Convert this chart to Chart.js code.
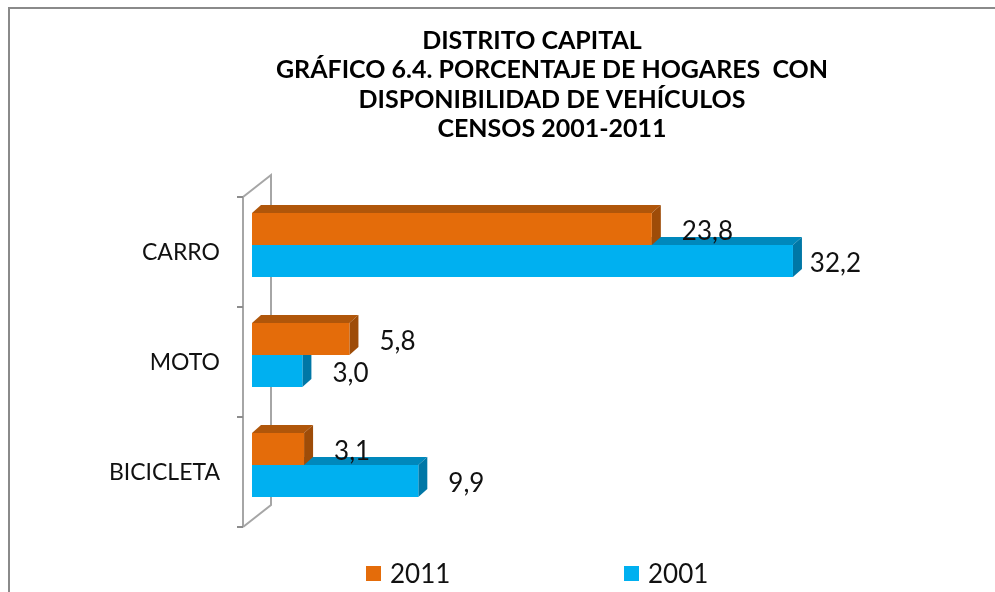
<!DOCTYPE html>
<html>
<head>
<meta charset="utf-8">
<script src="https://cdn.jsdelivr.net/npm/chart.js@4/dist/chart.umd.min.js"></script>
<style>
html,body{margin:0;padding:0;background:#fff;}
#wrap{position:relative;width:995px;height:592px;}
</style>
</head>
<body>
<div id="wrap"><canvas id="c" width="995" height="592"></canvas></div>
<script>
const categories = ["CARRO", "MOTO", "BICICLETA"];
const seriesNames = ["2011", "2001"];
const values2011 = [23.8, 5.8, 3.1];
const values2001 = [32.2, 3.0, 9.9];
const titleLines = ["DISTRITO CAPITAL", "GRÁFICO 6.4. PORCENTAJE DE HOGARES  CON", "DISPONIBILIDAD DE VEHÍCULOS", "CENSOS 2001-2011"];

const FONT = "Lato, 'Open Sans', sans-serif";
const DX = 9, DY = 8; // bar depth
const colors = {
  front: ["#E46C0A", "#00B0F0"],
  top: ["#B0560A", "#0088BC"],
  side: ["#9E4C08", "#0077A6"]
};

const borderPlugin = {
  id: 'border',
  beforeDraw(chart) {
    const ctx = chart.ctx;
    ctx.save();
    ctx.fillStyle = '#fff';
    ctx.fillRect(0, 0, chart.width, chart.height);
    ctx.strokeStyle = '#8a8a8a';
    ctx.lineWidth = 2;
    ctx.beginPath();
    ctx.moveTo(9, chart.height + 2);
    ctx.lineTo(9, 8);
    ctx.lineTo(chart.width + 2, 8);
    ctx.stroke();
    ctx.restore();
  }
};

const titlePlugin = {
  id: 'title3d',
  afterDraw(chart) {
    const ctx = chart.ctx;
    ctx.save();
    ctx.font = "bold 25px " + FONT;
    ctx.fillStyle = '#000';
    ctx.textAlign = 'center';
    ctx.textBaseline = 'middle';
    titleLines.forEach((t, i) => ctx.fillText(t, i === 0 ? 532 : 552, 41 + i * 29.3));
    ctx.restore();
  }
};

const wallPlugin = {
  id: 'wall',
  beforeDatasetsDraw(chart) {
    const ctx = chart.ctx;
    const a = chart.chartArea;
    const fx = a.left - 9, bx = a.left + 19;
    const ft = a.top + 7, fb = a.bottom + 7, bt = a.top - 15, bb = a.bottom - 15;
    ctx.save();
    ctx.strokeStyle = '#a6a6a6';
    ctx.lineWidth = 2;
    ctx.beginPath();
    ctx.moveTo(fx, ft); ctx.lineTo(fx, fb);
    ctx.moveTo(fx, ft); ctx.lineTo(bx, bt); ctx.lineTo(bx, bb); ctx.lineTo(fx, fb);
    ctx.stroke();
    const n = categories.length;
    const band = (a.bottom - a.top) / n;
    ctx.strokeStyle = '#8c8c8c';
    ctx.beginPath();
    for (let i = 0; i <= n; i++) {
      const y = a.top + i * band + 7;
      ctx.moveTo(fx - 6, y); ctx.lineTo(fx, y);
    }
    ctx.stroke();
    // 3D faces: later datasets first
    for (let d = chart.data.datasets.length - 1; d >= 0; d--) {
      const meta = chart.getDatasetMeta(d);
      meta.data.forEach(bar => {
        const p = bar.getProps(['x', 'y', 'base', 'height'], true);
        const top = p.y - p.height / 2, bot = p.y + p.height / 2;
        ctx.fillStyle = colors.top[d];
        ctx.beginPath();
        ctx.moveTo(p.base, top); ctx.lineTo(p.x, top);
        ctx.lineTo(p.x + DX, top - DY); ctx.lineTo(p.base + DX, top - DY);
        ctx.closePath(); ctx.fill();
        ctx.fillStyle = colors.side[d];
        ctx.beginPath();
        ctx.moveTo(p.x, top); ctx.lineTo(p.x + DX, top - DY);
        ctx.lineTo(p.x + DX, bot - DY); ctx.lineTo(p.x, bot);
        ctx.closePath(); ctx.fill();
      });
    }
    ctx.restore();
  }
};

const labelPlugin = {
  id: 'vlabels',
  afterDatasetsDraw(chart) {
    const ctx = chart.ctx;
    const a = chart.chartArea;
    ctx.save();
    ctx.font = "26px " + FONT;
    ctx.fillStyle = '#111';
    ctx.textAlign = 'left';
    ctx.textBaseline = 'middle';
    chart.data.datasets.forEach((ds, d) => {
      chart.getDatasetMeta(d).data.forEach((bar, i) => {
        const t = ds.data[i].toFixed(1).replace('.', ',');
        const w = ctx.measureText(t).width;
        let x = bar.x + DX + 21;
        if (x + w > a.right + 21) x = a.right + 21 - w;
        ctx.fillText(t, x, bar.y + 3);
      });
    });
    ctx.restore();
  }
};

const legendPlugin = {
  id: 'legend3d',
  afterDraw(chart) {
    const ctx = chart.ctx;
    ctx.save();
    ctx.font = "26px " + FONT;
    ctx.textBaseline = 'middle';
    ctx.textAlign = 'left';
    const xs = [366, 624];
    chart.data.datasets.forEach((ds, d) => {
      ctx.fillStyle = colors.front[d];
      ctx.fillRect(xs[d], 566, 15, 15);
      ctx.fillStyle = '#111';
      ctx.fillText(ds.label, xs[d] + 24, 575);
    });
    ctx.restore();
  }
};

new Chart(document.getElementById('c'), {
  type: 'bar',
  data: {
    labels: categories,
    datasets: [
      { label: seriesNames[0], data: values2011, backgroundColor: colors.front[0], borderWidth: 0 },
      { label: seriesNames[1], data: values2001, backgroundColor: colors.front[1], borderWidth: 0 }
    ]
  },
  options: {
    indexAxis: 'y',
    responsive: false,
    animation: false,
    devicePixelRatio: 1,
    categoryPercentage: 0.58,
    barPercentage: 1.0,
    layout: { padding: { left: 0, top: 190, right: 155, bottom: 72 } },
    plugins: { legend: { display: false }, title: { display: false }, tooltip: { enabled: false } },
    scales: {
      x: { display: false, min: 0, max: 35 },
      y: {
        afterFit(s) { s.width = 252; },
        grid: { display: false, drawTicks: false },
        border: { display: false },
        ticks: { padding: 32, labelOffset: 8, color: '#111', font: { family: FONT, size: 23 } }
      }
    }
  },
  plugins: [borderPlugin, wallPlugin, labelPlugin, titlePlugin, legendPlugin]
});
</script>
</body>
</html>
